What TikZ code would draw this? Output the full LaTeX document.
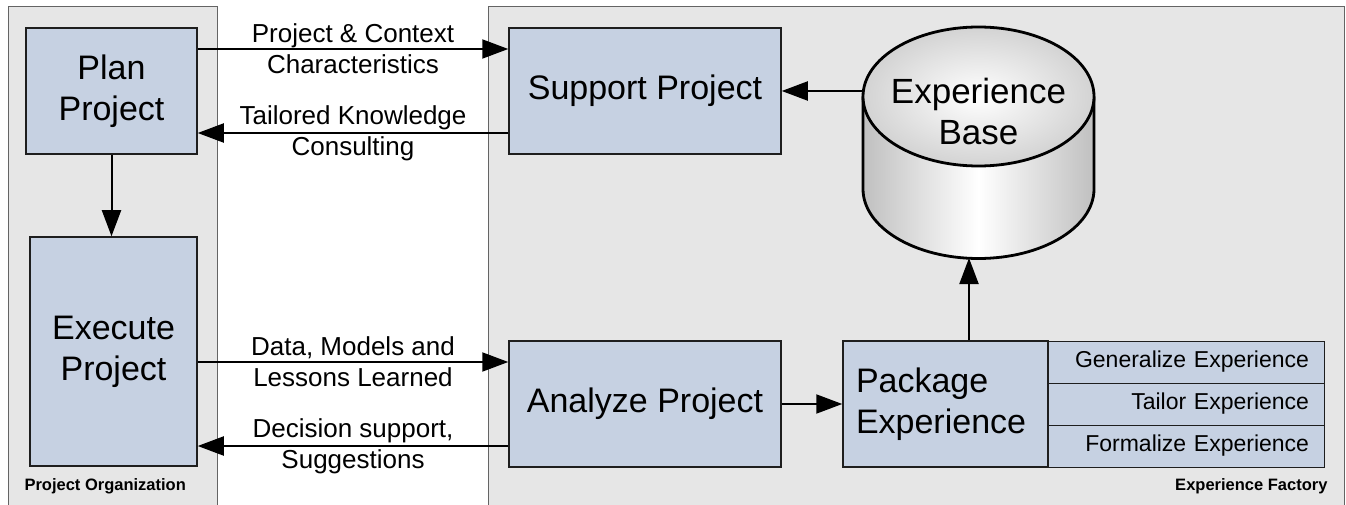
\documentclass[tikz,border=0pt]{standalone}
\usepackage{fontspec}
\setmainfont{Liberation Sans}
\usetikzlibrary{arrows.meta}

\definecolor{taskblue}{RGB}{198,209,226}
\definecolor{panelgray}{RGB}{230,230,230}
\definecolor{panelline}{RGB}{100,100,100}
\definecolor{boxline}{RGB}{30,30,30}
\definecolor{cylgray}{RGB}{192,192,192}

\tikzset{
  task/.style={draw=boxline, fill=taskblue, line width=1.5pt, inner sep=0pt,
    align=center, font=\fontsize{34}{41}\selectfont},
  subtask/.style={draw=boxline, fill=taskblue, line width=1pt, inner sep=0pt,
    minimum width=276pt, minimum height=42pt, text width=246pt, align=right,
    font=\fontsize{23}{27}\selectfont},
  flow/.style={-{Triangle[length=26pt,width=19pt]}, line width=2pt},
  flowlabel/.style={font=\fontsize{26}{31}\selectfont, align=center},
  orglabel/.style={font=\bfseries\fontsize{16.5}{20}\selectfont},
}

\begin{document}
\begin{tikzpicture}[x=1pt, y=-1pt]
    \useasboundingbox (0,0) rectangle (1346,505);
    % the two organisations, open at the bottom
    \fill[panelgray] (8,7) rectangle (217,505);
    \draw[panelline, line width=1pt] (8,505) -- (8,7) -- (217,7) -- (217,505);
    \fill[panelgray] (488,7) rectangle (1344,505);
    \draw[panelline, line width=1pt] (488,505) -- (488,7) -- (1344,7) -- (1344,505);
    \node[orglabel, anchor=west] (orgname) at (21,486) {Project Organization};
    \node[orglabel, anchor=east] (efname) at (1331,486) {Experience Factory};

    % project side
    \node[task, minimum width=171pt, minimum height=126pt] (plan) at (111.5,91) {Plan\\Project};
    \node[task, minimum width=167pt, minimum height=229pt] (execute) at (113.5,351.5) {Execute\\Project};

    % factory side
    \node[task, minimum width=272pt, minimum height=126pt] (support) at (645,91) {Support Project};
    \node[task, minimum width=272pt, minimum height=126pt] (analyze) at (645,404) {Analyze Project};
    \node[task, minimum width=205pt, minimum height=126pt, text width=179pt, align=left] (package) at (945.5,404) {Package\\Experience};
    \node[subtask] (generalize) at (1186,362) {Generalize Experience};
    \node[subtask] (tailor) at (1186,404) {Tailor Experience};
    \node[subtask] (formalize) at (1186,446) {Formalize Experience};

    % experience base
    \fill[left color=cylgray, right color=cylgray, middle color=white]
      (863,96.5) -- (863,189) arc[start angle=180, end angle=360, x radius=115.5pt, y radius=69.5pt] -- (1094,96.5) -- cycle;
    \draw[line width=2.8pt]
      (863,96.5) -- (863,189) arc[start angle=180, end angle=360, x radius=115.5pt, y radius=69.5pt] -- (1094,96.5);
    \draw[line width=2.8pt, inner color=white, outer color=cylgray!70]
      (978.5,96.5) ellipse [x radius=115.5pt, y radius=69.5pt];
    \node[font=\fontsize{35}{41}\selectfont, align=center] (base) at (978.5,111) {Experience\\Base};
    \coordinate (baseside) at (863,91);
    \coordinate (basefoot) at (969,258);

    % flows
    \draw[flow] ([yshift=42pt]plan.east) -- node[flowlabel] {Project \& Context\\Characteristics} ([yshift=42pt]support.west);
    \draw[flow] ([yshift=-42pt]support.west) -- node[flowlabel] {Tailored Knowledge\\Consulting} ([yshift=-42pt]plan.east);
    \draw[flow] ([yshift=-10.5pt]execute.east) -- node[flowlabel] {Data, Models and\\Lessons Learned} ([yshift=42pt]analyze.west);
    \draw[flow] ([yshift=-42pt]analyze.west) -- node[flowlabel] {Decision support,\\Suggestions} ([yshift=-94.5pt]execute.east);
    \draw[flow] (plan.south) -- (plan.south |- execute.north);
    \draw[flow] (analyze) -- (package);
    \draw[flow] (baseside) -- (support.east |- baseside);
    \draw[flow] (package.north -| basefoot) -- (basefoot);
\end{tikzpicture}
\end{document}
